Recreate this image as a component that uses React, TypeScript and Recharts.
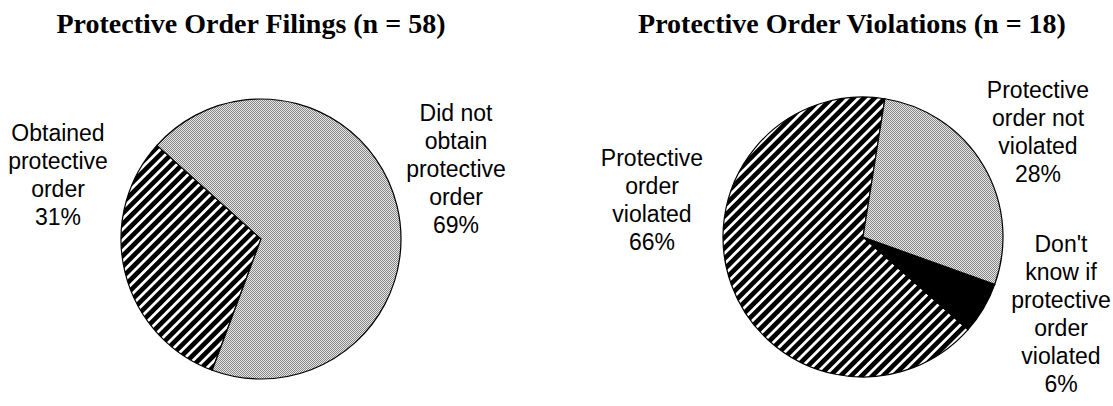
import { PieChart, Pie, Cell } from "recharts";

// values (percent)
const filingNames = ["Obtained protective order", "Did not obtain protective order"];
const filingValues = [31, 69];
const filingLabels = [
  ["Obtained", "protective", "order"],
  ["Did not", "obtain", "protective", "order"],
];

const violationNames = [
  "Protective order violated",
  "Don't know if protective order violated",
  "Protective order not violated",
];
const violationValues = [66, 6, 28];
const violationLabels = [
  ["Protective", "order", "violated"],
  ["Don't", "know if", "protective", "order", "violated"],
  ["Protective", "order not", "violated"],
];

const titles = ["Protective Order Filings (n = 58)", "Protective Order Violations (n = 18)"];

const filingData = filingNames.map((name, i) => ({ name, value: filingValues[i] }));
const violationData = violationNames.map((name, i) => ({ name, value: violationValues[i] }));

// layout
const W = 1113;
const H = 406;
const R = 140;
const LEFT = { cx: 261, cy: 239 };
const RIGHT = { cx: 863, cy: 237 };
const LINE = 28;
// label block offsets from the pie centre: [dx, dy of first baseline]
const filingLabelPos = [[-203, -98], [195, -118]];
const violationLabelPos = [[-211, -71], [198, 15], [175, -139]];

const filingFills = ["url(#hatch)", "url(#stipple)"];
const violationFills = ["url(#hatch)", "#000", "url(#stipple)"];

const titleStyle = {
  fontFamily: "'Liberation Serif', 'Times New Roman', serif",
  fontWeight: "bold",
  fontSize: 28,
};

function makeLabel(lines: string[][], values: number[], pos: number[][]) {
  return (props: any) => {
    const { cx, cy, index } = props;
    const [dx, dy] = pos[index];
    const x = cx + dx;
    const all = [...lines[index], `${values[index]}%`];
    return (
      <text
        key={`lbl-${index}`}
        x={x}
        y={cy + dy}
        textAnchor="middle"
        fontFamily="'Liberation Sans', Arial, sans-serif"
        fontSize={23}
        fill="#000"
        stroke="none"
      >
        {all.map((l, i) => (
          <tspan key={i} x={x} dy={i === 0 ? 0 : LINE}>
            {l}
          </tspan>
        ))}
      </text>
    );
  };
}

export default function App() {
  return (
    <div style={{ width: W, height: H, background: "#fff" }}>
      <style>{"body{margin:0;background:#fff}"}</style>
      <PieChart width={W} height={H} margin={{ top: 0, right: 0, bottom: 0, left: 0 }}>
        <defs>
          <pattern id="hatch" patternUnits="userSpaceOnUse" width={7.5} height={7.5} patternTransform="rotate(45)">
            <rect width={7.5} height={7.5} fill="#000" />
            <rect width={2.8} height={7.5} fill="#fff" />
          </pattern>
          <pattern id="stipple" patternUnits="userSpaceOnUse" width={2} height={2}>
            <rect width={2} height={2} fill="#e8e8e8" />
            <rect x={0} y={0} width={1} height={1} fill="#858585" />
            <rect x={1} y={1} width={1} height={1} fill="#858585" />
          </pattern>
        </defs>
        <text x={251} y={33} textAnchor="middle" fill="#000" {...titleStyle}>
          {titles[0]}
        </text>
        <text x={852} y={33} textAnchor="middle" fill="#000" {...titleStyle}>
          {titles[1]}
        </text>
        <Pie
          data={filingData}
          dataKey="value"
          cx={LEFT.cx}
          cy={LEFT.cy}
          outerRadius={R}
          startAngle={138}
          endAngle={498}
          stroke="#000"
          strokeWidth={1.2}
          labelLine={false}
          label={makeLabel(filingLabels, filingValues, filingLabelPos)}
          isAnimationActive={false}
        >
          {filingData.map((d, i) => (
            <Cell key={d.name} fill={filingFills[i]} />
          ))}
        </Pie>
        <Pie
          data={violationData}
          dataKey="value"
          cx={RIGHT.cx}
          cy={RIGHT.cy}
          outerRadius={R}
          startAngle={81}
          endAngle={441}
          stroke="#000"
          strokeWidth={1.2}
          labelLine={false}
          label={makeLabel(violationLabels, violationValues, violationLabelPos)}
          isAnimationActive={false}
        >
          {violationData.map((d, i) => (
            <Cell key={d.name} fill={violationFills[i]} />
          ))}
        </Pie>
      </PieChart>
    </div>
  );
}
